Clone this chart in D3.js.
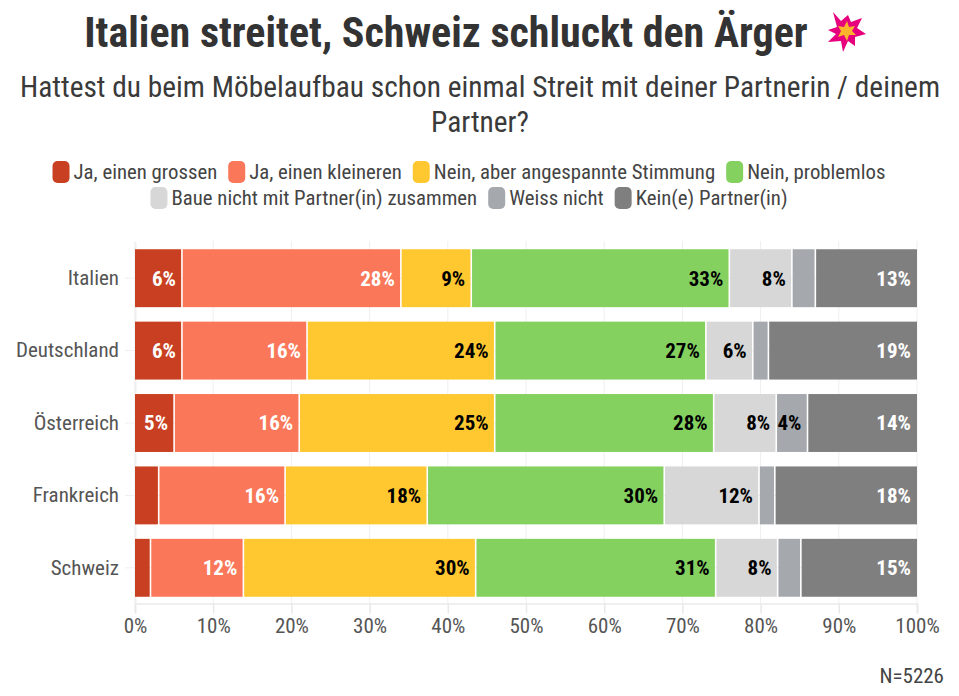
<!DOCTYPE html>
<html lang="de">
<head>
<meta charset="utf-8">
<script src="https://cdn.jsdelivr.net/npm/d3@7"></script>
<style>
  html, body { margin: 0; padding: 0; background: #fff; }
  svg { display: block; }
  text { font-family: "Roboto Condensed", Roboto, sans-serif; font-stretch: condensed; }
</style>
</head>
<body>
<svg id="chart" width="959" height="696"></svg>
<script>
const countries = ["Italien", "Deutschland", "Österreich", "Frankreich", "Schweiz"];
const answers = [
  "Ja, einen grossen", "Ja, einen kleineren", "Nein, aber angespannte Stimmung",
  "Nein, problemlos", "Baue nicht mit Partner(in) zusammen", "Weiss nicht", "Kein(e) Partner(in)"
];
const colours = ["#c84021", "#fa7859", "#ffc831", "#84d160", "#d7d7d7", "#a5a9ae", "#7f7f7f"];
const labelColours = ["#fff", "#fff", "#000", "#000", "#000", "#000", "#fff"];

const italien = [6, 28, 9, 33, 8, 3, 13];
const deutschland = [6, 16, 24, 27, 6, 2, 19];
const oesterreich = [5, 16, 25, 28, 8, 4, 14];
const frankreich = [3, 16, 18, 30, 12, 2, 18];
const schweiz = [2, 12, 30, 31, 8, 3, 15];
const rows = [italien, deutschland, oesterreich, frankreich, schweiz];

const tickValues = [0, 10, 20, 30, 40, 50, 60, 70, 80, 90, 100];
const minLabelled = 4;

const svg = d3.select("#chart");
const x = d3.scaleLinear().domain([0, 100]).range([135, 917]);
const y = d3.scaleBand().domain(countries).range([242, 604]).paddingInner(0.2).paddingOuter(0.1);

function label(px, baseline, str, size, weight, fill, anchor = "middle") {
  return svg.append("text")
    .attr("x", px).attr("y", baseline)
    .attr("text-anchor", anchor)
    .attr("font-size", size)
    .attr("font-weight", weight)
    .attr("fill", fill)
    .text(str);
}
label(446, 47, "Italien streitet, Schweiz schluckt den Ärger", 42, 700, "#333333");

// Explosion glyph beside the title
const burst = svg.append("g").attr("transform", "translate(846,31)");
const rays = [[-13,-19],[-5,-10],[2,-16],[5,-9],[16,-13],[11,-3],[20,3],[9,6],[9,15],[2,10],[-3,21],[-5,10],[-18,11],[-10,3],[-18,-1],[-9,-4]];
burst.append("polygon").attr("points", rays.join(" ")).attr("fill", "#e6007e");
const core = [[1,-10],[3,-4],[9,-5],[6,0],[10,4],[3,4],[1,10],[-2,4],[-8,6],[-5,0],[-8,-5],[-2,-4]];
burst.append("polygon").attr("points", core.join(" ")).attr("fill", "#fdb32b");

label(480, 97, "Hattest du beim Möbelaufbau schon einmal Streit mit deiner Partnerin / deinem", 29.4, 400, "#3a3a3a");
label(480, 132, "Partner?", 29.4, 400, "#3a3a3a");

// Legend, laid out from measured text widths
const legendRows = [[0, 1, 2, 3], [4, 5, 6]];
const legendSize = 20.8;
const measure = svg.append("text").attr("font-size", legendSize).attr("visibility", "hidden");
function textWidth(s) { measure.text(s); return measure.node().getComputedTextLength(); }
legendRows.forEach((row, r) => {
  const items = row.map(i => ({ i, w: textWidth(answers[i]) }));
  const swatch = 17, gap = 4, between = 11;
  const total = d3.sum(items, d => swatch + gap + d.w) + between * (items.length - 1);
  let px = 469 - total / 2;
  const top = 161 + r * 26;
  items.forEach(d => {
    svg.append("rect").attr("x", px).attr("y", top).attr("width", swatch).attr("height", 22)
      .attr("rx", 5).attr("fill", colours[d.i]);
    label(px + swatch + gap, top + 18, answers[d.i], legendSize, 400, "#444444", "start");
    px += swatch + gap + d.w + between;
  });
});
measure.remove();

// Grid lines behind the bars
const plot = svg.append("g");
plot.selectAll("line.grid").data(tickValues).join("line").attr("class", "grid")
  .attr("x1", d => x(d)).attr("x2", d => x(d)).attr("y1", 241).attr("y2", 604)
  .attr("stroke", "#efefef").attr("stroke-width", 1);
plot.selectAll("line.hgrid").data(countries).join("line").attr("class", "hgrid")
  .attr("x1", 125).attr("x2", 917)
  .attr("y1", d => y(d) + y.bandwidth() / 2).attr("y2", d => y(d) + y.bandwidth() / 2)
  .attr("stroke", "#efefef").attr("stroke-width", 1);

// Category axis
const yAxis = svg.append("g").attr("transform", "translate(135,0)")
  .call(d3.axisLeft(y).tickSize(0).tickPadding(16));
yAxis.select(".domain").attr("stroke", "#efefef").attr("stroke-width", 2);
yAxis.selectAll("text").attr("font-size", 21).attr("fill", "#555555");

// Percentage axis
const xAxis = svg.append("g").attr("transform", "translate(0,603.5)")
  .call(d3.axisBottom(x).tickValues(tickValues).tickFormat(d => d + "%").tickSize(10).tickPadding(5));
xAxis.select(".domain").attr("stroke", "#efefef").attr("stroke-width", 2);
xAxis.selectAll("line").attr("stroke", "#e8e8e8").attr("stroke-width", 1.5);
xAxis.selectAll("text").attr("font-size", 21).attr("fill", "#555555");

// Each row is stacked to a full 100 percent width
const series = rows.map(values => {
  const total = d3.sum(values);
  let acc = 0;
  return values.map((v, k) => {
    const start = acc; acc += v;
    return { k, v, x0: start / total * 100, x1: acc / total * 100 };
  });
});
const seam = 0.8;
const rowGroups = svg.selectAll("g.row").data(series).join("g").attr("class", "row")
  .attr("transform", (d, i) => `translate(0,${y(countries[i])})`);
// Segments leave a thin white seam between neighbours; the row's outer ends stay flush
rowGroups.selectAll("rect").data(d => d).join("rect")
  .attr("x", d => x(d.x0) + (d.k > 0 ? seam : 0))
  .attr("width", d => x(d.x1) - x(d.x0) - (d.k > 0 ? seam : 0) - (d.x1 < 100 ? seam : 0))
  .attr("height", y.bandwidth())
  .attr("fill", d => colours[d.k]);
// Value labels carry a thin outline in their segment's colour
rowGroups.selectAll("text").data(d => d.filter(s => s.v >= minLabelled)).join("text")
  .attr("x", d => x(d.x1) - 6)
  .attr("y", y.bandwidth() / 2 + 7.5)
  .attr("text-anchor", "end").attr("font-size", 21).attr("font-weight", 700)
  .attr("fill", d => labelColours[d.k])
  .attr("stroke", d => colours[d.k]).attr("stroke-width", 2).attr("paint-order", "stroke")
  .text(d => d.v + "%");

label(944, 683, "N=5226", 21, 400, "#444444", "end");
</script>
</body>
</html>
